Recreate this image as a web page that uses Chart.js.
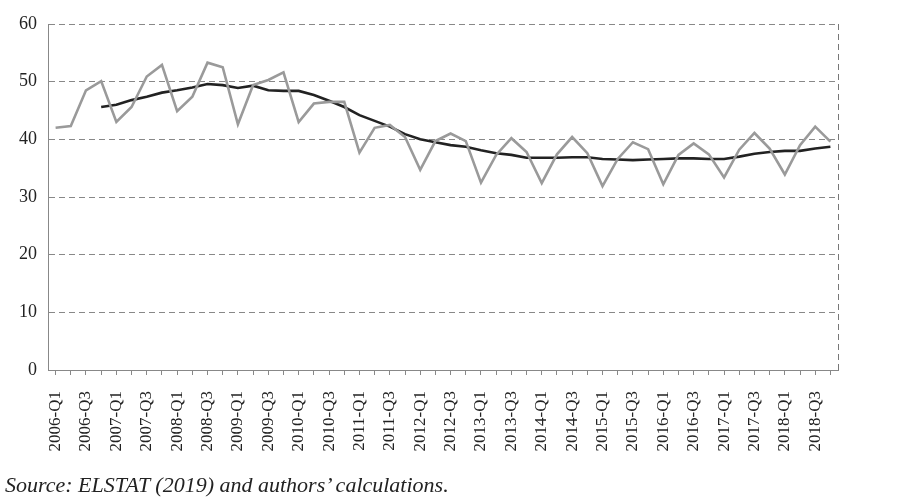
<!DOCTYPE html>
<html>
<head>
<meta charset="utf-8">
<script src="https://cdn.jsdelivr.net/npm/chart.js@4"></script>
<style>
  html, body { margin: 0; padding: 0; background: #fff; }
  #wrap { position: relative; width: 900px; height: 503px; }
  #source {
    position: absolute; left: 5px; top: 472px;
    font-family: "Liberation Serif", serif; font-style: italic; font-size: 22px; color: #222;
  }
</style>
</head>
<body>
<div id="wrap">
  <canvas id="chart" width="900" height="503"></canvas>
  <div id="source">Source: ELSTAT (2019) and authors’ calculations.</div>
</div>
<script>
const quarters = [];
for (let y = 2006; y <= 2018; y++) {
  for (let q = 1; q <= 4; q++) quarters.push(y + '-Q' + q);
}

const rawSeries = [
  42.0, 42.3, 48.5, 50.1, 43.0, 45.6, 50.9, 52.9,
  44.9, 47.4, 53.3, 52.5, 42.6, 49.4, 50.3, 51.6,
  43.0, 46.2, 46.5, 46.5, 37.7, 42.0, 42.5, 40.4,
  34.7, 39.7, 41.0, 39.7, 32.5, 37.3, 40.2, 37.8,
  32.4, 37.4, 40.4, 37.6, 31.9, 36.6, 39.5, 38.3,
  32.2, 37.3, 39.3, 37.4, 33.4, 38.2, 41.1, 38.4,
  33.9, 39.0, 42.2, 39.6
];

const movingAvg = [
  null, null, null, 45.6, 46.0, 46.8, 47.4, 48.1,
  48.5, 49.0, 49.6, 49.4, 48.9, 49.3, 48.5, 48.4,
  48.4, 47.7, 46.7, 45.6, 44.2, 43.2, 42.2, 40.9,
  40.0, 39.5, 39.0, 38.7, 38.1, 37.6, 37.3, 36.8,
  36.8, 36.8, 36.9, 36.9, 36.6, 36.5, 36.4, 36.5,
  36.6, 36.7, 36.7, 36.6, 36.6, 37.0, 37.5, 37.8,
  38.0, 38.0, 38.4, 38.7
];

const yTicks = [0, 10, 20, 30, 40, 50, 60];

const serif = '"Liberation Serif", "Times New Roman", serif';

// dashed right border of the plot area
const frame = {
  id: 'frame',
  afterDraw(chart) {
    const { ctx, chartArea: a } = chart;
    ctx.save();
    ctx.strokeStyle = '#777';
    ctx.lineWidth = 1;
    ctx.setLineDash([6, 4]);
    ctx.beginPath();
    ctx.moveTo(a.right + 0.5, a.top);
    ctx.lineTo(a.right + 0.5, a.bottom);
    ctx.stroke();
    ctx.restore();
  }
};

new Chart(document.getElementById('chart').getContext('2d'), {
  type: 'line',
  data: {
    labels: quarters,
    datasets: [
      { data: rawSeries, borderColor: '#9a9a9a', borderWidth: 2.6, pointRadius: 0, tension: 0 },
      { data: movingAvg, borderColor: '#222', borderWidth: 2.6, pointRadius: 0, tension: 0 }
    ]
  },
  options: {
    responsive: false,
    animation: false,
    layout: { padding: { left: 0, right: 62, top: 24, bottom: 0 } },
    plugins: { legend: { display: false }, tooltip: { enabled: false } },
    scales: {
      x: {
        offset: true,
        grid: { drawOnChartArea: false, drawTicks: true, tickLength: 5, color: '#888', offset: false },
        border: { display: true, color: '#888', dash: [4, 3] },
        ticks: {
          autoSkip: false, minRotation: 90, maxRotation: 90, padding: 16,
          color: '#222', font: { family: serif, size: 17 },
          callback: (v, i) => (i % 2 === 0 ? quarters[i] : '')
        },
        afterFit: s => { s.height = 133; }
      },
      y: {
        min: 0, max: 60,
        afterBuildTicks: s => { s.ticks = yTicks.map(v => ({ value: v })); },
        grid: { color: '#888', drawTicks: false },
        border: { display: true, color: '#888', dash: [6, 4] },
        ticks: { padding: 11, color: '#222', font: { family: serif, size: 18 } },
        afterFit: s => { s.width = 48; }
      }
    }
  },
  plugins: [frame]
});
</script>
</body>
</html>
